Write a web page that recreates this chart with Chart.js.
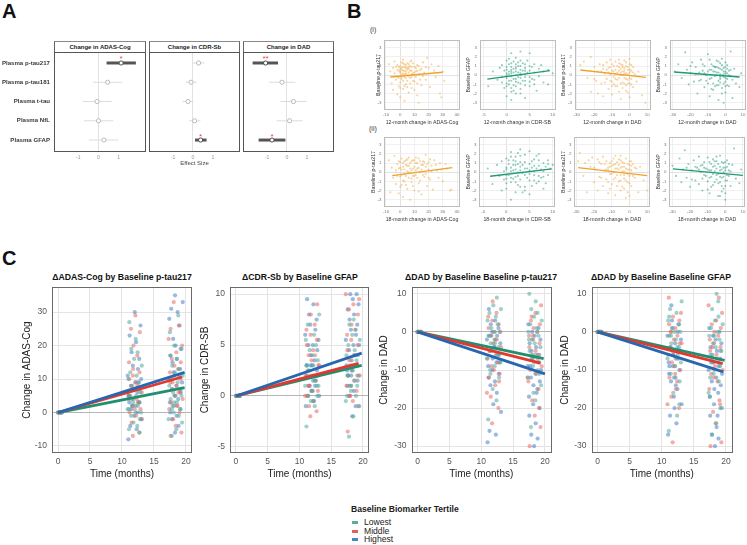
<!DOCTYPE html>
<html>
<head>
<meta charset="utf-8">
<script src="https://cdn.jsdelivr.net/npm/chart.js@4.4.1/dist/chart.umd.min.js"></script>
<style>
  body { margin: 0; background: #fff; }
  #fig { position: relative; width: 747px; height: 545px; overflow: hidden; background: #fff;
         font-family: 'Liberation Sans', Arial, sans-serif; color: #222; }
  #fig canvas { position: absolute; }
  .lbl { position: absolute; white-space: nowrap; }
  .panel { font-weight: bold; font-size: 20px; line-height: 20px; color: #111; }
  .strip { position: absolute; box-sizing: border-box; height: 12px; border: 1px solid #666; border-top: 1.5px solid #8a8a8a;
           border-bottom: none; background: #fff; font-weight: bold; font-size: 6px; line-height: 10px; text-align: center; color: #222; }
  .ctitle { position: absolute; font-weight: bold; font-size: 8.7px; line-height: 10px; text-align: center; color: #111; }
  .sw { display: inline-block; width: 6px; height: 3px; margin-right: 6px; vertical-align: middle; }
  .item { position: absolute; left: 352px; font-size: 8.6px; line-height: 9px; white-space: nowrap; }
</style>
</head>
<body>
<div id="fig">
  <div class="lbl panel" style="left:2px;top:1px">A</div>
  <div class="lbl panel" style="left:347px;top:1px">B</div>
  <div class="lbl panel" style="left:2px;top:248px">C</div>
  <div class="lbl" style="left:370px;top:26px;font-size:7px;color:#333">(i)</div>
  <div class="lbl" style="left:369px;top:125px;font-size:7px;color:#333">(ii)</div>
  <div class="strip" id="strip0" style="left:54px;top:41px;width:92px"></div>
  <div class="strip" id="strip1" style="left:149px;top:41px;width:91px"></div>
  <div class="strip" id="strip2" style="left:243px;top:41px;width:91px"></div>
  <div class="ctitle" id="ct0" style="left:22px;top:272px;width:200px"></div>
  <div class="ctitle" id="ct1" style="left:200px;top:272px;width:200px"></div>
  <div class="ctitle" id="ct2" style="left:381px;top:272px;width:200px"></div>
  <div class="ctitle" id="ct3" style="left:561px;top:272px;width:200px"></div>
  <div class="lbl" id="legTitle" style="left:351px;top:504px;font-weight:bold;font-size:8.6px"></div>
  <div class="item" style="top:518px"><span class="sw" style="background:#5aaea0"></span><span id="leg0"></span></div>
  <div class="item" style="top:526.5px"><span class="sw" style="background:#e0605a"></span><span id="leg1"></span></div>
  <div class="item" style="top:535px"><span class="sw" style="background:#4a84c4"></span><span id="leg2"></span></div>
</div>
<script>
// ---- panel A: forest plot values ----
const biomarkers = ['Plasma p-tau217', 'Plasma p-tau181', 'Plasma t-tau', 'Plasma NfL', 'Plasma GFAP'];
const outcomes = ['Change in ADAS-Cog', 'Change in CDR-Sb', 'Change in DAD'];
const effectTicks = [-1, 0, 1];
const adasEst = [1.12, 0.45, -0.07, 0.0, 0.27];
const adasLo = [0.4, -0.27, -0.78, -0.73, -0.48];
const adasHi = [1.85, 1.18, 0.65, 0.73, 0.98];
const adasSig = ['*', '', '', '', ''];
const cdrEst = [0.28, -0.1, -0.25, 0.08, 0.38];
const cdrLo = [0.0, -0.38, -0.52, -0.2, 0.1];
const cdrHi = [0.58, 0.2, 0.03, 0.37, 0.68];
const cdrSig = ['', '', '', '', '*'];
const dadEst = [-1.07, -0.25, 0.32, 0.13, -0.75];
const dadLo = [-1.72, -0.9, -0.33, -0.52, -1.42];
const dadHi = [-0.45, 0.42, 0.98, 0.78, -0.08];
const dadSig = ['**', '', '', '', '*'];

// ---- panel B: baseline biomarker vs change ----
const zTicks = [-3, -2, -1, 0, 1, 2, 3];
const adasTicksB = [-10, 0, 10, 20, 30, 40];
const cdrTicksB = [-5, 0, 5, 10];
const dadTicksB = [-30, -20, -10, 0, 10];
const bTitles12 = ['12-month change in ADAS-Cog', '12-month change in CDR-SB', '12-month change in DAD', '12-month change in DAD'];
const bTitles18 = ['18-month change in ADAS-Cog', '18-month change in CDR-SB', '18-month change in DAD', '18-month change in DAD'];
const bYTitles = ['Baseline p-tau217', 'Baseline GFAP', 'Baseline p-tau217', 'Baseline GFAP'];

const adas12Tau = [[-8,1.2],[-7,0.4],[-6,-0.9],[-5,0.8],[-5,-1.6],[-4,0.2],[-4,1.5],[-3,-0.5],[-3,0.9],[-2,-2.1],[-2,0.6],[-2,1.1],[-1,-0.3],[-1,0.5],[-1,-1.2],[0,0.3],[0,1.0],[0,-0.8],[0,-2.4],[0,0.7],[1,0.1],[1,1.4],[1,-0.4],[1,0.6],[2,-1.5],[2,0.9],[2,0.2],[2,1.7],[3,-0.2],[3,0.5],[3,-2.8],[3,1.2],[4,0.4],[4,-1.0],[4,0.8],[5,0.0],[5,1.3],[5,-0.6],[6,0.7],[6,-1.9],[6,0.3],[7,1.0],[7,-0.3],[8,0.5],[8,-1.4],[8,1.6],[9,0.2],[10,-0.7],[10,0.9],[11,0.4],[12,-2.2],[12,1.1],[13,-3.0],[13,0.1],[14,0.6],[15,-1.1],[16,1.4],[17,0.3],[18,-0.5],[19,1.9],[20,0.8],[21,-1.3],[22,1.2],[24,0.5],[25,-0.2],[27,1.0],[28,-2.0],[29,-2.4],[30,0.4],[31,-0.6],
  [0,0.4],[1,-0.2],[1,0.8],[2,0.5],[2,-0.6],[3,0.9],[3,0.1],[4,1.1],[4,-0.3],[5,0.6],[5,-1.3],[6,1.2],[6,-0.1],[7,0.5],[7,-0.9],[8,0.1],[8,0.9],[9,-0.6],[9,1.3],[10,0.3],[10,-1.6],[11,0.8],[11,-0.2],[12,0.5],[13,1.0],[14,-0.5],[15,0.7],[16,-0.1],[-1,0.9],[-2,-0.2],[0,-1.4],[2,1.3],[4,0.2],[6,0.9],[8,-0.2],[3,-1.2],[5,0.8],[7,1.5],[12,-0.9],[18,0.9]];
const cdr12Gfap = [[-4,-1.2],[-3,0.4],[-2,-0.5],[-1.5,0.8],[-1,-0.2],[-1,1.1],[-0.5,-1.4],[0,0.2],[0,-0.9],[0,1.6],[0,-2.3],[0,0.6],[0,-0.3],[0.5,1.2],[0.5,-0.6],[0.5,0.1],[1,2.4],[1,-1.8],[1,0.4],[1,-0.1],[1,0.9],[1,-2.7],[1.5,0.3],[1.5,-1.1],[1.5,1.5],[2,-0.4],[2,0.7],[2,-2.0],[2,1.9],[2,0.0],[2.5,-0.8],[2.5,1.0],[3,0.2],[3,-1.5],[3,2.6],[3,0.6],[3,-0.3],[3.5,1.3],[4,-0.6],[4,0.8],[4,-2.5],[4,0.1],[4.5,1.6],[5,-0.2],[5,0.5],[5,-1.2],[5,2.4],[5.5,0.9],[6,-0.5],[6,0.3],[6,1.2],[6.5,-1.7],[7,0.7],[7,-0.1],[7.5,1.1],[8,-0.8],[8,0.4],[9,0.6],[9,-1.0],[10,0.2],
  [0,0.9],[0,-1.2],[0.5,0.4],[0.5,-1.0],[1,1.3],[1,-0.6],[1,0.2],[1.5,-0.4],[1.5,0.7],[2,1.2],[2,-1.2],[2,0.4],[2.5,0.3],[2.5,-0.2],[3,-0.9],[3,1.0],[3,0.0],[3.5,0.5],[3.5,-0.6],[4,1.2],[4,-0.2],[4.5,0.3],[5,1.0],[5,-0.7],[0,0.0],[1,-1.4],[2,-0.7],[3,1.6],[4,0.5],[0.5,1.8],[1.5,-1.7],[2.5,1.4],[6,-1.0],[-0.5,0.5],[-1,-0.8],[3,-2.0],[5.5,-0.4],[4,-1.1],[1,0.6],[2,0.9]];
const dad12Tau = [[-28,1.1],[-26,1.5],[-24,-0.3],[-22,2.0],[-22,-1.8],[-20,0.9],[-19,-0.6],[-18,0.4],[-18,-2.0],[-17,1.2],[-16,-0.9],[-15,0.7],[-15,-2.3],[-14,0.2],[-13,1.4],[-13,-0.4],[-12,0.8],[-12,-1.5],[-11,0.1],[-11,1.7],[-10,-0.7],[-10,0.5],[-10,-2.1],[-9,1.0],[-9,-0.2],[-8,0.6],[-8,-1.2],[-8,1.5],[-7,0.3],[-7,-0.5],[-6,0.9],[-6,-1.8],[-6,1.3],[-5,0.0],[-5,0.7],[-5,-2.6],[-4,1.1],[-4,-0.8],[-4,0.4],[-3,-0.3],[-3,1.6],[-3,0.8],[-2,-1.1],[-2,0.2],[-2,1.0],[-1,-0.5],[-1,0.6],[-1,-1.9],[0,0.3],[0,1.8],[0,-0.9],[0,-2.4],[1,0.5],[1,-0.4],[2,0.9],[2,-1.3],[3,0.1],[4,-0.7],[5,0.4],[7,-2.2],[9,-3.0],
  [-12,0.3],[-11,-0.6],[-10,1.2],[-9,0.4],[-9,-1.0],[-8,0.1],[-7,1.0],[-7,-1.2],[-6,0.5],[-6,-0.3],[-5,1.2],[-5,-0.9],[-4,0.0],[-4,-1.4],[-3,0.5],[-3,-0.9],[-2,1.4],[-2,-0.4],[-1,0.9],[-1,0.1],[0,0.6],[0,-0.3],[1,1.1],[1,-1.0],[-14,-0.8],[-13,0.6],[-16,0.4],[-8,-0.4],[-5,0.3],[-3,0.2],[-2,-1.7],[0,1.2],[-10,-1.2],[-6,1.7],[-4,0.9],[-1,-0.9],[2,0.3],[-11,0.9],[-15,1.1],[-20,-0.4]];
const dad12Gfap = [[-29,0.4],[-27,1.2],[-25,-0.3],[-23,2.5],[-22,0.6],[-21,-1.0],[-20,0.2],[-19,1.4],[-18,-0.7],[-17,0.9],[-16,-2.0],[-15,0.3],[-14,1.7],[-14,-0.5],[-13,0.5],[-12,-1.3],[-12,1.0],[-11,0.0],[-10,2.3],[-10,-0.9],[-9,0.6],[-9,-2.3],[-8,1.2],[-8,-0.3],[-7,0.4],[-7,-1.6],[-6,0.9],[-6,-0.1],[-5,1.6],[-5,-1.1],[-5,0.3],[-4,-0.6],[-4,0.8],[-4,-2.7],[-3,0.1],[-3,1.3],[-3,-0.4],[-2,0.6],[-2,-1.4],[-2,1.8],[-1,-0.2],[-1,0.4],[-1,-3.0],[0,0.9],[0,-0.7],[0,0.2],[0,-1.9],[1,1.1],[1,-0.4],[2,0.5],[2,-1.2],[3,2.6],[3,-0.1],[4,-2.5],[5,0.7],[6,-0.9],[8,-1.3],[9,0.2],
  [-10,0.4],[-9,-0.4],[-8,0.6],[-7,-0.9],[-7,1.0],[-6,0.4],[-6,-1.2],[-5,0.0],[-5,0.9],[-4,0.3],[-4,-1.1],[-3,0.7],[-3,-0.8],[-2,0.0],[-2,1.1],[-1,0.8],[-1,-0.9],[0,0.4],[0,-0.3],[0,1.4],[1,0.2],[1,-1.1],[2,0.0],[-12,0.2],[-11,-0.6],[-13,1.2],[-15,-0.6],[-8,-1.5],[-4,1.5],[-2,-2.0],[0,-1.2],[1,0.7],[3,0.6],[-9,1.7],[-6,0.9],[-3,-0.2],[-1,0.1],[-17,0.1],[-20,1.0],[4,-0.5]];
const adas18Tau = [[-8,1.3],[-7,-2.2],[-6,0.5],[-5,-0.6],[-4,1.8],[-3,-1.3],[-3,0.2],[-2,0.9],[-1,-2.3],[-1,0.4],[0,-0.5],[0,1.1],[0,-1.6],[1,0.3],[1,1.5],[2,-0.9],[2,0.6],[2,-2.7],[3,1.2],[3,-0.2],[4,0.8],[4,-1.4],[5,0.1],[5,1.4],[6,-0.6],[6,0.7],[7,-3.0],[7,1.0],[8,0.2],[8,-1.1],[9,1.3],[9,-0.4],[10,0.6],[10,-2.0],[11,1.0],[11,-0.3],[12,0.4],[13,1.5],[13,-1.2],[14,0.0],[15,0.8],[15,-2.4],[16,1.2],[17,-0.5],[18,0.6],[18,1.9],[19,-1.5],[20,1.1],[20,0.3],[21,-0.8],[22,0.7],[23,-1.9],[24,1.3],[26,0.2],[27,-0.6],[28,1.0],[30,-1.0],[32,0.9],[33,0.4],[35,-2.0],[36,-1.9],
  [0,0.5],[1,-0.3],[2,1.0],[3,0.3],[4,-0.4],[4,1.3],[5,0.7],[6,0.0],[6,1.6],[7,0.4],[8,-0.7],[8,1.2],[9,0.4],[10,1.3],[10,-0.4],[11,0.2],[12,1.0],[12,-0.6],[13,0.5],[14,1.2],[14,-0.9],[15,0.3],[16,0.8],[16,-0.3],[17,1.1],[18,-0.2],[19,0.9],[20,-0.6],[21,1.4],[22,0.1],[-2,-0.4],[-1,1.2],[1,-1.4],[3,-1.0],[5,-1.8],[9,-1.5],[11,1.6],[13,-2.1],[25,0.8],[29,0.3]];
const cdr18Gfap = [[-4,0.4],[-3,-1.3],[-2,0.8],[-1.5,-0.4],[-1,1.2],[-1,-2.0],[-0.5,0.1],[0,-0.7],[0,1.5],[0,0.3],[0,-1.8],[0.5,0.9],[0.5,-0.3],[1,2.2],[1,-1.1],[1,0.5],[1,-3.0],[1.5,0.2],[1.5,1.3],[2,-0.5],[2,0.8],[2,-2.2],[2,1.7],[2.5,0.0],[2.5,-1.4],[3,0.6],[3,2.5],[3,-0.8],[3,1.1],[3.5,-0.1],[4,0.4],[4,-1.6],[4,1.9],[4.5,-0.6],[5,0.9],[5,-0.2],[5,2.3],[5,-2.4],[5.5,0.5],[6,-0.9],[6,1.4],[6,0.1],[6.5,-1.2],[7,0.7],[7,2.0],[7,-0.4],[7.5,0.3],[8,-1.8],[8,1.0],[8.5,0.6],[9,-0.3],[9,1.3],[9.5,0.4],[10,0.8],
  [0,0.5],[0,-0.3],[0.5,1.3],[1,0.1],[1,-0.6],[1.5,0.8],[1.5,-0.7],[2,0.3],[2,-1.1],[2.5,0.9],[2.5,-0.4],[3,0.2],[3,-1.6],[3.5,0.8],[4,-0.3],[4,1.1],[4.5,0.4],[5,-0.9],[5,0.2],[5.5,1.2],[6,-0.3],[6,0.7],[6.5,0.4],[7,-1.0],[7,1.3],[8,0.1],[8,-0.5],[9,0.9],[2,1.2],[3,1.8],[1,1.7],[0,-1.2],[4,-2.0],[5.5,-1.5],[6.5,1.8],[7.5,-0.6],[8.5,-1.2],[2.5,2.1],[3.5,-2.2],[-0.5,-0.8]];
const dad18Tau = [[-29,1.2],[-28,2.1],[-26,-0.4],[-25,1.0],[-24,-2.2],[-22,0.6],[-21,1.6],[-20,-1.1],[-19,0.3],[-18,1.4],[-18,-2.0],[-17,-0.5],[-16,0.9],[-15,-1.5],[-15,1.7],[-14,0.2],[-13,-0.8],[-13,1.2],[-12,0.5],[-12,-2.3],[-11,1.0],[-11,-0.2],[-10,0.7],[-10,-1.3],[-9,1.5],[-9,0.0],[-8,-0.6],[-8,1.8],[-8,-2.5],[-7,0.4],[-7,1.1],[-6,-1.0],[-6,0.8],[-5,-0.3],[-5,1.3],[-5,-2.0],[-4,0.6],[-4,-1.6],[-3,1.0],[-3,0.1],[-3,-0.7],[-2,1.5],[-2,-2.8],[-1,0.3],[-1,-1.1],[0,0.8],[0,-0.4],[0,1.2],[1,-1.5],[1,0.2],[2,0.9],[3,-0.6],[4,0.4],[5,-2.2],[6,0.6],[8,-0.9],[10,-2.0],
  [-12,0.2],[-11,0.6],[-10,-0.2],[-10,1.2],[-9,-0.8],[-8,0.4],[-8,0.9],[-7,-0.3],[-7,-1.5],[-6,0.3],[-6,1.4],[-5,0.5],[-5,-0.9],[-4,0.1],[-4,1.1],[-3,-0.3],[-3,0.6],[-2,-0.9],[-2,0.4],[-1,0.9],[-1,-0.2],[0,0.3],[0,-1.2],[1,0.7],[2,-0.4],[-14,0.9],[-13,0.3],[-16,-0.6],[-9,0.8],[-5,1.8],[-3,-1.8],[-1,-2.2],[0,-2.6],[1,1.2],[3,0.5],[-12,-1.1],[-11,-1.8],[-17,1.1],[-20,0.5],[-23,1.3]];
const dad18Gfap = [[-30,0.7],[-28,-0.4],[-26,1.5],[-25,-1.1],[-24,0.3],[-23,2.4],[-22,-0.6],[-21,0.9],[-20,-1.6],[-19,0.2],[-18,1.3],[-17,-0.9],[-16,0.5],[-15,1.7],[-15,-1.3],[-14,0.0],[-13,0.8],[-13,-2.0],[-12,1.1],[-12,-0.3],[-11,0.4],[-10,1.6],[-10,-1.0],[-9,0.2],[-9,-2.3],[-8,0.9],[-8,-0.5],[-7,1.4],[-7,-1.4],[-6,0.1],[-6,0.7],[-5,-0.8],[-5,1.2],[-4,-0.2],[-4,-2.6],[-3,0.6],[-3,1.8],[-3,-1.1],[-2,0.3],[-2,-0.6],[-1,1.0],[-1,-1.8],[-1,0.0],[0,0.5],[0,-0.9],[0,-3.0],[1,1.3],[1,-0.3],[2,0.2],[3,-1.5],[4,0.8],[5,2.6],[6,-0.7],[8,-1.2],[9,0.3],
  [-12,0.5],[-11,-0.4],[-10,0.3],[-9,1.1],[-9,-0.6],[-8,0.2],[-7,0.6],[-7,-0.2],[-6,-1.1],[-6,1.2],[-5,0.4],[-5,-0.3],[-4,0.9],[-4,-1.2],[-3,0.2],[-3,-0.5],[-2,1.1],[-2,-1.5],[-1,0.5],[-1,-0.5],[0,0.2],[0,1.1],[0,-1.5],[1,0.6],[1,-0.9],[2,-0.4],[-14,0.7],[-13,-0.7],[-15,0.3],[-17,0.6],[-8,-1.6],[-10,-1.9],[-5,1.7],[-2,-2.1],[-3,-2.6],[0,-2.3],[2,0.9],[3,0.1],[-19,-0.8],[-22,0.5]];
// fitted lines: [x0, y0, x1, y1]
const bFits12 = [[-7, -0.2, 30, 0.32], [-4.2, -0.42, 9.4, 0.5], [-28, 0.57, 9.3, -0.24], [-29.3, 0.35, 8.1, -0.2]];
const bFits18 = [[-5.6, -0.37, 36.7, 0.5], [-3.5, -0.44, 9.8, 0.37], [-29, 0.5, 10, -0.37], [-29.8, 0.37, 10, -0.34]];

// ---- panel C: change over time by tertile ----
const tertiles = ['Lowest', 'Middle', 'Highest'];
const cTitles = ['\u0394ADAS-Cog by Baseline p-tau217', '\u0394CDR-Sb by Baseline GFAP', '\u0394DAD by Baseline Baseline p-tau217', '\u0394DAD by Baseline Baseline GFAP'];
const cYTitles = ['Change in ADAS-Cog', 'Change in CDR-SB', 'Change in DAD', 'Change in DAD'];
const monthTicks = [0, 5, 10, 15, 20];
const visits = [12, 18.4];
const jitter = [-0.9, 0.4, -0.2, 0.8, -0.6, 0.1, 1.0, -1.1, 0.5, -0.3, 0.7, -0.5, 0.2, -0.8, 0.9, 0.0, -0.4, 0.6, -1.0, 0.3, -0.7, 1.1, -0.1, 0.45, -0.55, 0.15, -0.85, 0.75, -0.25];
const baseJitter = [0.0, 0.15, 0.3, 0.45, 0.6];

const adasTicksC = [-10, 0, 10, 20, 30];
const adasLow12 = [-5,-4,-3,-2,-1,0,0,1,2,2,3,4,5,5,6,7,8,9,10,11,12,14,16,18,19,22,27,-6,3,1];
const adasMid12 = [-7,-6,-3,-1,0,1,1,2,3,4,4,5,6,7,8,8,9,10,12,13,15,17,20,24,25,29,-2,6,3,11];
const adasHigh12 = [-8,-5,-4,-2,-1,0,1,2,3,3,4,5,6,7,7,8,9,10,11,13,14,16,18,21,23,26,30,2,9,5];
const adasLow18 = [-7,-5,-3,-2,-1,0,1,2,3,4,5,5,6,7,8,9,10,11,12,13,14,16,17,19,20,24,29,3,7,1];
const adasMid18 = [-7,-6,-4,-2,0,1,2,3,4,5,6,7,8,9,10,11,12,13,14,15,16,18,20,22,26,33,6,9,2,25];
const adasHigh18 = [-6,-4,-2,-1,0,1,2,3,4,5,6,7,8,9,10,11,12,13,15,16,17,19,20,22,26,28,30,31,33,35];
const adasLineEnd = [[19.8, 7.4], [19.4, 10.6], [19.8, 12.0]];

const cdrTicksC = [-5, 0, 5, 10];
const cdrLow12 = [-3,-1,-0.5,0,0,0.5,1,1,1.5,2,2,2.5,3,3,3.5,4,4.5,5,5.5,6,7,8,0.5,1.5,2.5,-0.5,3,1];
const cdrMid12 = [-2,-1.5,-1,-0.5,0,0.5,0.5,1,1.5,2,2,2.5,3,3.5,4,4,4.5,5,5.5,6,6.5,7,8,9,1,2,3,0];
const cdrHigh12 = [-1,-0.5,0,0,0.5,1,1,1.5,2,2.5,3,3,3.5,4,4.5,5,5,5.5,6,6.5,7,7.5,8,9,9.5,2,3,1];
const cdrLow18 = [-4,-2,-1,-0.5,0,0.5,1,1,1.5,2,2,2.5,3,3.5,4,4.5,5,5.5,6,6.5,7,7.5,2,3,1,0,4,2.5];
const cdrMid18 = [-3.5,-1,-0.5,0,0.5,1,1.5,2,2,2.5,3,3.5,4,4.5,5,5.5,6,6.5,7,8,8.5,9,9.5,10,3,1,2,0];
const cdrHigh18 = [-2,-1,0,0.5,1,1.5,2,2.5,3,3.5,4,4.5,5,5,5.5,6,6.5,7,7.5,8,8.5,9,9.5,10,10,3,4,2];
const cdrLineEnd = [[19.8, 3.0], [19.3, 3.2], [19.8, 4.2]];

const dadTicksC = [-30, -20, -10, 0, 10];
const dadTauLow12 = [-23,-18,-15,-12,-10,-9,-8,-7,-6,-5,-4,-3,-2,-1,0,0,1,2,3,4,5,6,7,9,-11,-3,-1,-6];
const dadTauMid12 = [-24,-20,-17,-14,-12,-11,-10,-9,-8,-7,-6,-5,-4,-3,-2,-1,0,1,2,3,4,5,8,-13,-5,-2,0,-16];
const dadTauHigh12 = [-29,-27,-26,-21,-19,-16,-14,-13,-12,-11,-10,-9,-8,-7,-6,-5,-4,-3,-2,-1,0,1,2,3,6,-8,-4,-1];
const dadTauLow18 = [-25,-18,-14,-12,-10,-9,-8,-7,-6,-5,-4,-3,-2,-1,0,1,2,3,4,5,6,8,10,-11,-6,-2,0,-16];
const dadTauMid18 = [-30,-25,-22,-18,-15,-13,-11,-10,-9,-8,-7,-6,-5,-4,-3,-2,-1,0,1,2,3,5,7,-12,-6,-1,-20,4];
const dadTauHigh18 = [-30,-28,-27,-24,-22,-20,-19,-17,-15,-14,-13,-12,-11,-10,-9,-8,-7,-6,-5,-4,-3,-2,-1,0,1,2,-16,-9];
const dadTauLineEnd = [[19.8, -7.0], [19.3, -8.2], [20.0, -11.0]];

const dadGfapLow12 = [-26,-22,-16,-13,-11,-9,-8,-7,-6,-5,-4,-3,-2,-1,0,0,1,2,3,5,6,8,-12,-4,-1,-7,4,-19];
const dadGfapMid12 = [-29,-20,-17,-15,-12,-10,-9,-8,-7,-6,-5,-4,-3,-2,-1,0,1,2,3,4,9,-13,-6,-3,0,-11,5,-19];
const dadGfapHigh12 = [-27,-24,-22,-19,-17,-15,-13,-12,-11,-10,-9,-8,-7,-6,-5,-4,-3,-2,-1,0,1,2,7,-14,-9,-5,-20,3];
const dadGfapLow18 = [-27,-24,-20,-16,-13,-11,-9,-8,-7,-6,-5,-4,-3,-2,-1,0,1,2,3,4,6,10,-12,-5,-1,-17,8,-10];
const dadGfapMid18 = [-30,-29,-24,-21,-18,-15,-13,-11,-10,-9,-8,-7,-6,-5,-4,-3,-2,-1,0,1,2,3,5,7,9,-12,-19,-4];
const dadGfapHigh18 = [-30,-28,-27,-25,-22,-20,-19,-17,-16,-15,-14,-13,-12,-11,-10,-9,-8,-7,-6,-5,-4,-3,-2,-1,0,1,-22,-8];
const dadGfapLineEnd = [[19.8, -7.5], [19.5, -8.3], [19.6, -10.5]];

const FONT = "'Liberation Sans', Arial, sans-serif";
Chart.defaults.font.family = FONT;
Chart.defaults.animation = false;
Chart.defaults.plugins.legend.display = false;
Chart.defaults.plugins.tooltip.enabled = false;

const framePlugin = {
  id: 'frame',
  afterDraw(chart, args, opts) {
    const a = chart.chartArea, ctx = chart.ctx;
    ctx.save();
    ctx.strokeStyle = opts.color || '#666';
    ctx.lineWidth = 1;
    ctx.strokeRect(Math.round(a.left) + 0.5, Math.round(a.top) + 0.5,
      Math.round(a.right - a.left) - 1, Math.round(a.bottom - a.top) - 1);
    ctx.restore();
  }
};
Chart.register(framePlugin);

const fig = document.getElementById('fig');

// area = chart area in page px, m = room kept for axes around it
function makeChart(area, m, config) {
  const c = document.createElement('canvas');
  const w = area.r - area.l + m.l + m.r;
  const h = area.b - area.t + m.t + m.b;
  c.width = w; c.height = h;
  c.style.left = (area.l - m.l) + 'px';
  c.style.top = (area.t - m.t) + 'px';
  c.style.width = w + 'px';
  c.style.height = h + 'px';
  fig.appendChild(c);
  const o = config.options;
  o.responsive = false;
  o.devicePixelRatio = 1;
  o.layout = { autoPadding: false, padding: { top: m.t, right: m.r, left: 0, bottom: 0 } };
  o.scales.x.afterFit = (s) => { s.height = m.b; s.paddingLeft = 0; s.paddingRight = 0; };
  o.scales.y.afterFit = (s) => { s.width = m.l; s.paddingTop = 0; s.paddingBottom = 0; };
  return new Chart(c, config);
}

const fixTicks = (vals) => (s) => { s.ticks = vals.map((v) => ({ value: v })); };

function starPlugin(est, sig) {
  return {
    id: 'stars',
    afterDatasetsDraw(chart) {
      const { ctx, scales: { x, y } } = chart;
      ctx.save();
      ctx.fillStyle = '#e8453c';
      ctx.font = '8px ' + FONT;
      ctx.textAlign = 'center';
      ctx.textBaseline = 'alphabetic';
      sig.forEach((s, i) => {
        if (s) ctx.fillText(s, x.getPixelForValue(est[i]), y.getPixelForValue(i) - 1.5);
      });
      ctx.restore();
    }
  };
}

function forest(area, est, lo, hi, sig, showLabels, showTitle) {
  const m = { l: showLabels ? 54 : 0, r: 0, t: 0, b: 16 };
  const datasets = [{
    data: est.map((v, i) => ({ x: v, y: i })),
    pointRadius: 2.1,
    pointBackgroundColor: '#fff',
    pointBorderColor: sig.map((s) => (s ? '#444' : '#b3b3b3')),
    pointBorderWidth: 0.9,
  }];
  est.forEach((v, i) => datasets.push({
    data: [{ x: lo[i], y: i }, { x: hi[i], y: i }],
    showLine: true,
    pointRadius: 0,
    borderColor: sig[i] ? '#555' : '#dcdcdc',
    borderWidth: sig[i] ? 3 : 1,
  }));
  return makeChart(area, m, {
    type: 'scatter',
    data: { datasets },
    plugins: [starPlugin(est, sig)],
    options: {
      plugins: { frame: { color: '#555' } },
      scales: {
        x: {
          type: 'linear', min: -2.2, max: 2.35,
          afterBuildTicks: fixTicks(effectTicks),
          grid: { drawTicks: false, color: (c) => (c.tick && c.tick.value === 0 ? '#e2e2e2' : 'rgba(0,0,0,0)') },
          border: { display: false },
          ticks: { font: { size: 5.2 }, color: '#999', padding: 2, maxRotation: 0, autoSkip: false },
          title: { display: showTitle, text: 'Effect Size', font: { size: 6 }, color: '#444', padding: { top: 0, bottom: 1 } },
        },
        y: {
          type: 'linear', min: -0.57, max: 4.62, reverse: true, display: showLabels,
          afterBuildTicks: fixTicks([0, 1, 2, 3, 4]),
          grid: { display: false, drawTicks: false },
          border: { display: false },
          ticks: { callback: (v) => biomarkers[v], font: { size: 6.1, weight: 'bold' }, color: '#3a3a3a', padding: 4, autoSkip: false },
        },
      },
    },
  });
}

forest({ l: 54, r: 146, t: 52, b: 152 }, adasEst, adasLo, adasHi, adasSig, true, false);
forest({ l: 149, r: 240, t: 52, b: 152 }, cdrEst, cdrLo, cdrHi, cdrSig, false, true);
forest({ l: 243, r: 334, t: 52, b: 152 }, dadEst, dadLo, dadHi, dadSig, false, false);
outcomes.forEach((t, i) => { document.getElementById('strip' + i).textContent = t; });

// ---- panel B ----
const ORANGE = '#f0a22e', ORANGE_PT = 'rgba(244,168,60,0.5)';
const GREEN = '#1d9a77', GREEN_PT = 'rgba(38,158,122,0.5)';

function scatterB(area, ml, pts, fit, line, dot, xmin, xmax, xticks, xTitle, yTitle) {
  const m = { l: ml, r: 2, t: 2, b: 17 };
  const gridColor = (c) => (c.tick && c.tick.value === 0 ? '#dadada' : '#ececec');
  return makeChart(area, m, {
    type: 'scatter',
    data: {
      datasets: [
        { data: [{ x: fit[0], y: fit[1] }, { x: fit[2], y: fit[3] }], showLine: true, pointRadius: 0, borderColor: line, borderWidth: 1.4 },
        { data: pts.map((p) => ({ x: p[0], y: p[1] })), pointRadius: 1.05, pointBorderWidth: 0, pointBackgroundColor: dot },
      ],
    },
    options: {
      plugins: { frame: { color: '#bdbdbd' } },
      scales: {
        x: {
          type: 'linear', min: xmin, max: xmax,
          afterBuildTicks: fixTicks(xticks),
          grid: { drawTicks: false, color: gridColor, lineWidth: 0.8 },
          border: { display: false },
          ticks: { font: { size: 4.4 }, color: '#777', padding: 2, maxRotation: 0, autoSkip: false },
          title: { display: true, text: xTitle, font: { size: 5.2 }, color: '#333', padding: { top: 0, bottom: 1 } },
        },
        y: {
          type: 'linear', min: -3.8, max: 3.85,
          afterBuildTicks: fixTicks(zTicks),
          grid: { drawTicks: false, color: gridColor, lineWidth: 0.8 },
          border: { display: false },
          ticks: { font: { size: 4.4 }, color: '#777', padding: 2.5, autoSkip: false },
          title: { display: true, text: yTitle, font: { size: 5.2 }, color: '#333', padding: { top: 1, bottom: 0 } },
        },
      },
    },
  });
}

const bCols = [
  { l: 384, r: 460, xmin: -11.4, xmax: 42.1, ticks: adasTicksB, line: ORANGE, dot: ORANGE_PT },
  { l: 479, r: 555, xmin: -5.9, xmax: 10.5, ticks: cdrTicksB, line: GREEN, dot: GREEN_PT },
  { l: 574, r: 650, xmin: -31.3, xmax: 11.6, ticks: dadTicksB, line: ORANGE, dot: ORANGE_PT },
  { l: 669, r: 745, xmin: -32, xmax: 11.2, ticks: dadTicksB, line: GREEN, dot: GREEN_PT },
];
const bData12 = [adas12Tau, cdr12Gfap, dad12Tau, dad12Gfap];
const bData18 = [adas18Tau, cdr18Gfap, dad18Tau, dad18Gfap];
bCols.forEach((c, i) => {
  scatterB({ l: c.l, r: c.r, t: 40, b: 110 }, i === 0 ? 10 : 15.5, bData12[i], bFits12[i], c.line, c.dot, c.xmin, c.xmax, c.ticks, bTitles12[i], bYTitles[i]);
  scatterB({ l: c.l, r: c.r, t: 137, b: 207 }, 15, bData18[i], bFits18[i], c.line, c.dot, c.xmin, c.xmax, c.ticks, bTitles18[i], bYTitles[i]);
});

// ---- panel C ----
const LINE_COLORS = ['#1f8f70', '#e2392f', '#2767b0'];
const DOT_COLORS = ['rgba(80,172,155,0.55)', 'rgba(232,105,100,0.55)', 'rgba(70,128,196,0.55)'];

function visitPoints(values, visit, shift) {
  return values.map((v, i) => ({ x: visit + jitter[(i + shift) % jitter.length], y: v }));
}

function changeChart(area, ml, groups12, groups18, lineEnds, ymin, ymax, yticks, yTitle) {
  const m = { l: ml, r: 8, t: 3, b: 31 };
  const datasets = [];
  [2, 1, 0].forEach((k) => datasets.push({
    data: [{ x: 0, y: 0 }, { x: lineEnds[k][0], y: lineEnds[k][1] }],
    showLine: true, pointRadius: 0, borderColor: LINE_COLORS[k], borderWidth: 2.8,
  }));
  [0, 1, 2].forEach((k) => {
    const pts = baseJitter.map((j) => ({ x: j, y: 0 }))
      .concat(visitPoints(groups12[k], visits[0], k * 9))
      .concat(visitPoints(groups18[k], visits[1], k * 9 + 4));
    datasets.push({ data: pts, pointRadius: 2.1, pointBorderWidth: 0, pointBackgroundColor: DOT_COLORS[k] });
  });
  const gridColor = (c) => (c.tick && c.tick.value === 0 ? '#b5b5b5' : '#e4e4e4');
  return makeChart(area, m, {
    type: 'scatter',
    data: { datasets },
    options: {
      plugins: { frame: { color: '#6a6a6a' } },
      scales: {
        x: {
          type: 'linear', min: -0.94, max: 20.95,
          afterBuildTicks: fixTicks(monthTicks),
          grid: { drawTicks: false, color: '#e4e4e4' },
          border: { display: false },
          ticks: { font: { size: 8.5 }, color: '#555', padding: 4, maxRotation: 0, autoSkip: false },
          title: { display: true, text: 'Time (months)', font: { size: 10 }, color: '#222', padding: { top: 0, bottom: 4 } },
        },
        y: {
          type: 'linear', min: ymin, max: ymax,
          afterBuildTicks: fixTicks(yticks),
          grid: { drawTicks: false, color: gridColor },
          border: { display: false },
          ticks: { font: { size: 8.5 }, color: '#555', padding: 5, autoSkip: false },
          title: { display: true, text: yTitle, font: { size: 10 }, color: '#222', padding: { top: 4, bottom: 0 } },
        },
      },
    },
  });
}

changeChart({ l: 52, r: 192, t: 287, b: 453 }, 35,
  [adasLow12, adasMid12, adasHigh12], [adasLow18, adasMid18, adasHigh18], adasLineEnd, -12.1, 37.5, adasTicksC, cYTitles[0]);
changeChart({ l: 230, r: 369, t: 287, b: 453 }, 35,
  [cdrLow12, cdrMid12, cdrHigh12], [cdrLow18, cdrMid18, cdrHigh18], cdrLineEnd, -5.6, 10.7, cdrTicksC, cYTitles[1]);
changeChart({ l: 411, r: 551, t: 287, b: 453 }, 37.5,
  [dadTauLow12, dadTauMid12, dadTauHigh12], [dadTauLow18, dadTauMid18, dadTauHigh18], dadTauLineEnd, -31.8, 11.8, dadTicksC, cYTitles[2]);
changeChart({ l: 591, r: 732, t: 287, b: 453 }, 36.5,
  [dadGfapLow12, dadGfapMid12, dadGfapHigh12], [dadGfapLow18, dadGfapMid18, dadGfapHigh18], dadGfapLineEnd, -31.8, 11.8, dadTicksC, cYTitles[3]);

cTitles.forEach((t, i) => { document.getElementById('ct' + i).textContent = t; });
document.getElementById('legTitle').textContent = 'Baseline Biomarker Tertile';
tertiles.forEach((t, i) => { document.getElementById('leg' + i).textContent = t; });
</script>
</body>
</html>
